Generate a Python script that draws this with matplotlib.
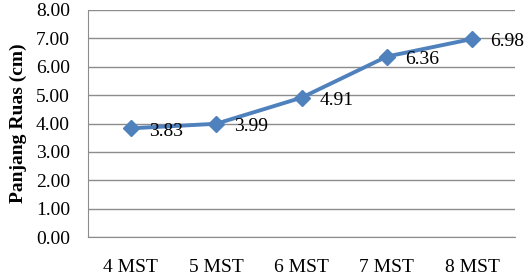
import matplotlib
matplotlib.use("Agg")
import matplotlib.pyplot as plt

categories = ["4 MST", "5 MST", "6 MST", "7 MST", "8 MST"]
values = [3.83, 3.99, 4.91, 6.36, 6.98]
yticks = [0, 1, 2, 3, 4, 5, 6, 7, 8]

plt.rcParams['font.family'] = ['Liberation Serif', 'DejaVu Serif']

fig = plt.figure(figsize=(5.29, 2.78), dpi=100)
ax = fig.add_axes([88/529, 1-237/278, (515-88)/529, (237-10)/278])

x = list(range(len(categories)))
ax.plot(x, values, color='#4F81BD', lw=2.8, marker='D', markersize=8.5, zorder=3)
for xi, v in zip(x, values):
    ax.annotate(f"{v:.2f}", (xi, v), xytext=(13, -2), textcoords='offset points',
                ha='left', va='center', fontsize=14, color='black')

ax.set_xlim(-0.5, len(categories) - 0.5)
ax.set_ylim(0, 8)
ax.set_yticks(yticks)
ax.set_yticklabels([f"{t:.2f}" for t in yticks], fontsize=14)
ax.set_xticks(x)
ax.set_xticklabels(categories, fontsize=14)
ax.tick_params(length=0)
ax.tick_params(axis='y', pad=13)
ax.tick_params(axis='x', pad=16)
ax.grid(axis='y', color='#8c8c8c', lw=1)
ax.set_axisbelow(True)
for s in ['top', 'right']:
    ax.spines[s].set_visible(False)
for s in ['left', 'bottom']:
    ax.spines[s].set_color('#8c8c8c')
ax.set_ylabel("Panjang Ruas (cm)", fontsize=14, fontweight='bold', labelpad=6)

fig.savefig("out.png", dpi=100)
